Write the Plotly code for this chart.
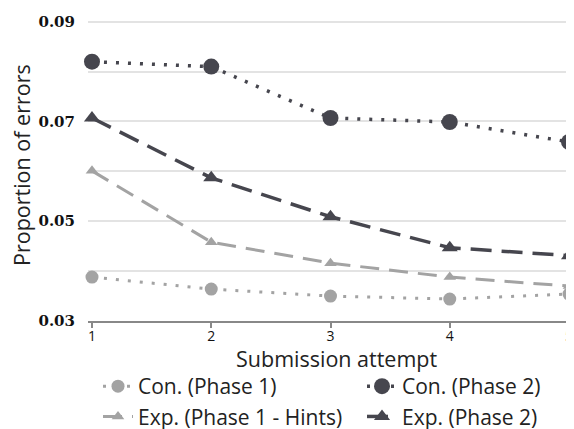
import plotly.graph_objects as go

attempts = [1, 2, 3, 4, 5]
con_p1 = [0.0388, 0.0364, 0.0350, 0.0344, 0.0354]
con_p2 = [0.0820, 0.0810, 0.0707, 0.0699, 0.0659]
exp_p1 = [0.0601, 0.0458, 0.0416, 0.0388, 0.0370]
exp_p2 = [0.0707, 0.0587, 0.0509, 0.0447, 0.0431]

y_tickvals = [0.03, 0.04, 0.05, 0.06, 0.07, 0.08, 0.09]
y_ticktext = ["0.03", "", "0.05", "", "0.07", "", "0.09"]
x_title = "Submission attempt"
y_title = "Proportion of errors"

dark = "#46464e"
light = "#a3a3a3"
sans = "Open Sans"

# the page body adds an 8px offset; coordinates below are figure coordinates.
# The figure runs a little past the window's right edge, as the reference plot does.
W, H = 600, 429
L, R, T, B = 80, 0, 7, 116
PW, PH = W - L - R, H - T - B

fig = go.Figure()
fig.add_trace(go.Scatter(x=attempts, y=con_p1, name="Con. (Phase 1)", mode="lines+markers",
                         legend="legend",
                         line=dict(color=light, dash="3px,9px", width=3),
                         marker=dict(symbol="circle", size=13, color=light), cliponaxis=False))
fig.add_trace(go.Scatter(x=attempts, y=exp_p1, name="Exp. (Phase 1 - Hints)", mode="lines+markers",
                         legend="legend",
                         line=dict(color=light, dash="19px,10px", width=3),
                         marker=dict(symbol="triangle-up", size=11, color=light), cliponaxis=False))
fig.add_trace(go.Scatter(x=attempts, y=con_p2, name="Con. (Phase 2)", mode="lines+markers",
                         legend="legend2",
                         line=dict(color=dark, dash="3px,9px", width=3.5),
                         marker=dict(symbol="circle", size=16, color=dark), cliponaxis=False))
fig.add_trace(go.Scatter(x=attempts, y=exp_p2, name="Exp. (Phase 2)", mode="lines+markers",
                         legend="legend2",
                         line=dict(color=dark, dash="21px,10px", width=3.5),
                         marker=dict(symbol="triangle-up", size=14, color=dark), cliponaxis=False))

legend_common = dict(orientation="v", xanchor="left", yanchor="top",
                     xref="container", yref="container", y=1 - 358 / H,
                     font=dict(family=sans, size=21, color="#222"),
                     tracegroupgap=0, itemwidth=30, bgcolor="rgba(0,0,0,0)")

fig.update_layout(
    width=W, height=H,
    margin=dict(l=L, r=R, t=T, b=B, autoexpand=False),
    plot_bgcolor="white", paper_bgcolor="white",
    showlegend=True,
    legend=dict(x=90 / W, **legend_common),
    legend2=dict(x=354 / W, **legend_common),
    xaxis=dict(range=[0.9665, 5.327], tickvals=attempts, ticktext=[str(a) for a in attempts],
               showgrid=False, showline=True, linecolor="#888", linewidth=2,
               ticks="outside", ticklen=5, tickcolor="#888", tickwidth=1.5,
               ticklabeloverflow="allow", ticklabelstandoff=-4,
               tickfont=dict(family=sans, size=14, color="#111"),
               automargin=False),
    yaxis=dict(range=[0.03, 0.09135], tickvals=y_tickvals, ticktext=y_ticktext,
               showgrid=True, gridcolor="#e3e3e3", gridwidth=1.5, zeroline=False,
               showline=False, ticks="outside", ticklen=9, tickcolor="rgba(0,0,0,0)",
               automargin=False,
               tickfont=dict(family="DejaVu Serif", size=15, color="#111", weight="bold")),
    annotations=[
        dict(text=x_title, xref="paper", yref="paper", x=(328 - L) / PW, y=-(350 - (T + PH)) / PH,
             xanchor="center", yanchor="middle", showarrow=False,
             font=dict(family=sans, size=21.5, color="#222")),
        dict(text=y_title, xref="paper", yref="paper", x=(13 - L) / PW, y=(T + PH - 157) / PH,
             xanchor="center", yanchor="middle", showarrow=False, textangle=-90,
             font=dict(family=sans, size=21.5, color="#222")),
    ],
)

fig.write_html("out.html")
